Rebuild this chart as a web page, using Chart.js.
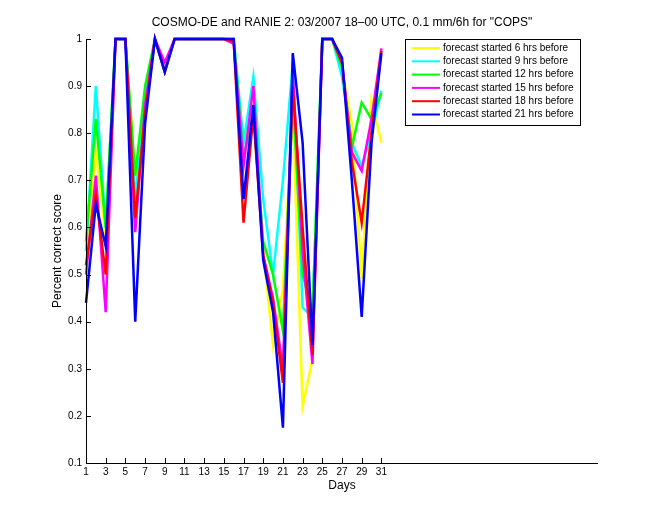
<!DOCTYPE html>
<html>
<head>
<meta charset="utf-8">
<script src="https://cdn.jsdelivr.net/npm/chart.js@4.4.0/dist/chart.umd.min.js"></script>
<style>
    html, body { margin: 0; padding: 0; background: #fff; }
    #wrap { width: 660px; height: 520px; }
</style>
</head>
<body>
<div id="wrap"><canvas id="scoreChart" width="660" height="520"></canvas></div>
<script>
const days = [1, 2, 3, 4, 5, 6, 7, 8, 9, 10, 11, 12, 13, 14, 15, 16, 17, 18, 19, 20, 21, 22, 23, 24, 25, 26, 27, 28, 29, 30, 31];
const xTicks = [1, 3, 5, 7, 9, 11, 13, 15, 17, 19, 21, 23, 25, 27, 29, 31];
const yTicks = [0.1, 0.2, 0.3, 0.4, 0.5, 0.6, 0.7, 0.8, 0.9, 1];

const seriesNames = [
    'forecast started 6 hrs before',
    'forecast started 9 hrs before',
    'forecast started 12 hrs before',
    'forecast started 15 hrs before',
    'forecast started 18 hrs before',
    'forecast started 21 hrs before'
];
const seriesColors = ['#ffff00', '#00ffff', '#00ff00', '#ff00ff', '#ff0000', '#0000ff'];

const hrs6  = [0.52, 0.76, 0.58, 1, 1, 0.70, 0.85, 1, 0.93, 1, 1, 1, 1, 1, 1, 1,    0.78, 0.86, 0.55, 0.35, 0.47, 0.85, 0.22, 0.32, 1, 1, 0.94, 0.82, 0.49, 0.87, 0.78];
const hrs9  = [0.55, 0.90, 0.60, 1, 1, 0.66, 0.87, 1, 0.93, 1, 1, 1, 1, 1, 1, 1,    0.78, 0.92, 0.66, 0.50, 0.70, 0.95, 0.43, 0.41, 1, 1, 0.92, 0.78, 0.73, 0.80, 0.89];
const hrs12 = [0.57, 0.83, 0.60, 1, 1, 0.71, 0.90, 1, 0.93, 1, 1, 1, 1, 1, 1, 1,    0.75, 0.84, 0.57, 0.50, 0.38, 0.88, 0.50, 0.42, 1, 1, 0.94, 0.77, 0.865, 0.83, 0.885];
const hrs15 = [0.50, 0.71, 0.42, 1, 1, 0.59, 0.86, 1, 0.95, 1, 1, 1, 1, 1, 1, 0.99, 0.73, 0.90, 0.54, 0.45, 0.30, 0.93, 0.55, 0.31, 1, 1, 0.95, 0.76, 0.72, 0.83, 0.98];
const hrs18 = [0.52, 0.67, 0.50, 1, 1, 0.62, 0.84, 1, 0.93, 1, 1, 1, 1, 1, 1, 0.995, 0.61, 0.84, 0.54, 0.44, 0.27, 0.90, 0.60, 0.33, 1, 1, 0.95, 0.74, 0.61, 0.80, 0.975];
const hrs21 = [0.44, 0.65, 0.56, 1, 1, 0.40, 0.82, 1, 0.93, 1, 1, 1, 1, 1, 1, 1,    0.66, 0.86, 0.53, 0.42, 0.175, 0.97, 0.78, 0.35, 1, 1, 0.96, 0.70, 0.41, 0.78, 0.97];

const allSeries = [hrs6, hrs9, hrs12, hrs15, hrs18, hrs21];
const FONT = '"Liberation Sans", Arial, sans-serif';

// matlab style: axes lines, inward ticks, title, labels, legend box
const matlabPlugin = {
    id: 'matlabPlugin',
    afterDraw(chart) {
        const {ctx, chartArea, scales} = chart;
        const xs = scales.x, ys = scales.y;
        ctx.save();
        ctx.strokeStyle = '#000';
        ctx.lineWidth = 1;
        ctx.beginPath();
        ctx.moveTo(chartArea.left + 0.5, chartArea.top);
        ctx.lineTo(chartArea.left + 0.5, chartArea.bottom + 0.5);
        ctx.lineTo(chartArea.right, chartArea.bottom + 0.5);
        xTicks.forEach(t => {
            const px = Math.round(xs.getPixelForValue(t)) + 0.5;
            ctx.moveTo(px, chartArea.bottom);
            ctx.lineTo(px, chartArea.bottom - 5);
        });
        yTicks.forEach(t => {
            const py = Math.round(ys.getPixelForValue(t)) + 0.5;
            ctx.moveTo(chartArea.left, py);
            ctx.lineTo(chartArea.left + 5, py);
        });
        ctx.stroke();

        ctx.fillStyle = '#000';
        ctx.textAlign = 'center';
        ctx.textBaseline = 'middle';
        ctx.font = '12px ' + FONT;
        ctx.fillText('COSMO-DE and RANIE 2: 03/2007 18\u201300 UTC, 0.1 mm/6h for "COPS"', 342, 23);
        ctx.fillText('Days', 342, 486);
        ctx.save();
        ctx.translate(58, (chartArea.top + chartArea.bottom) / 2);
        ctx.rotate(-Math.PI / 2);
        ctx.fillText('Percent correct score', 0, 0);
        ctx.restore();

        // legend
        const bx = 405, by = 39, bw = 175, bh = 86;
        ctx.fillStyle = '#fff';
        ctx.fillRect(bx, by, bw, bh);
        ctx.strokeRect(bx + 0.5, by + 0.5, bw, bh);
        ctx.font = '10px ' + FONT;
        ctx.textAlign = 'left';
        chart.data.datasets.forEach((ds, i) => {
            const ly = by + 9 + i * 13.3;
            ctx.strokeStyle = ds.borderColor;
            ctx.lineWidth = 2;
            ctx.beginPath();
            ctx.moveTo(412, ly);
            ctx.lineTo(440, ly);
            ctx.stroke();
            ctx.fillStyle = '#000';
            ctx.fillText(ds.label, 443, ly);
        });
        ctx.restore();
    }
};

const ctx = document.getElementById('scoreChart').getContext('2d');
new Chart(ctx, {
    type: 'line',
    data: {
        datasets: allSeries.map((vals, i) => ({
            label: seriesNames[i],
            data: days.map((d, j) => ({x: d, y: vals[j]})),
            borderColor: seriesColors[i],
            backgroundColor: seriesColors[i],
            borderWidth: 2.5,
            pointRadius: 0,
            tension: 0,
            clip: false,
            order: allSeries.length - i
        }))
    },
    options: {
        responsive: false,
        animation: false,
        layout: { padding: { top: 39, right: 62, left: 0, bottom: 0 } },
        plugins: {
            legend: { display: false },
            tooltip: { enabled: false }
        },
        scales: {
            x: {
                type: 'linear',
                min: 1,
                max: 53,
                border: { display: false },
                grid: { display: false, drawTicks: false },
                afterBuildTicks: axis => { axis.ticks = xTicks.map(v => ({value: v})); },
                afterFit: axis => { axis.height = 57; },
                ticks: {
                    color: '#000',
                    font: { family: FONT, size: 10 },
                    padding: 3,
                    maxRotation: 0,
                    autoSkip: false
                }
            },
            y: {
                min: 0.1,
                max: 1,
                border: { display: false },
                grid: { display: false, drawTicks: false },
                afterBuildTicks: axis => { axis.ticks = yTicks.map(v => ({value: v})); },
                afterFit: axis => { axis.width = 86; },
                ticks: {
                    color: '#000',
                    font: { family: FONT, size: 10 },
                    padding: 4,
                    callback: v => String(Math.round(v * 10) / 10)
                }
            }
        }
    },
    plugins: [matlabPlugin]
});
</script>
</body>
</html>
